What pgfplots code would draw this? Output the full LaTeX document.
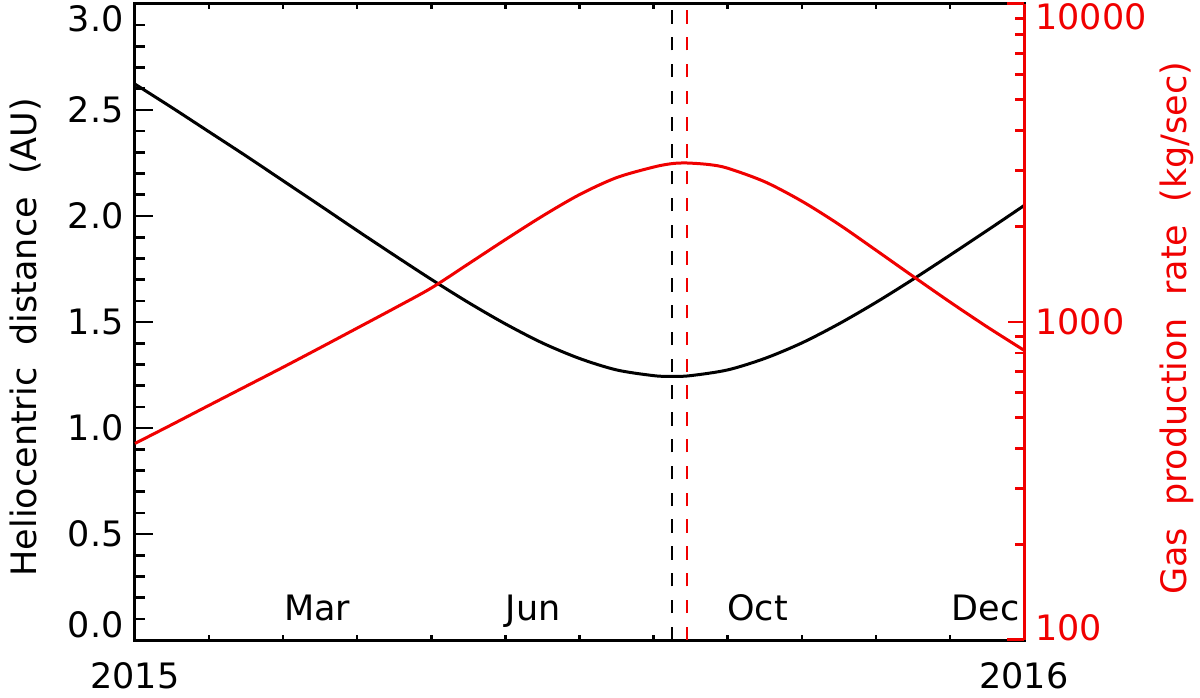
\documentclass[border=0pt]{standalone}
\usepackage{fontspec}
\setmainfont{DejaVu Sans}
\usepackage{pgfplots}
\pgfplotsset{compat=1.18}
\definecolor{myred}{RGB}{240,0,0}
\newcommand{\tf}{\fontsize{17.5pt}{21pt}\selectfont}
\begin{document}
\begin{tikzpicture}
\path[use as bounding box] (-67.5pt,-28.5pt) rectangle (532.5pt,320pt);
\pgfplotsset{
  base/.style={
    scale only axis, width=444.5pt, height=318pt,
    at={(0pt,0pt)}, anchor=south west,
    xmin=0, xmax=12,
    /pgf/number format/assume math mode=true,
    ticklabel style={font=\tf},
    label style={font=\tf},
  }
}
% axis 1: frame and x ticks
\begin{axis}[base,
  ymin=0, ymax=3, ytick=\empty,
  xtick={0,1,...,12},
  xticklabels={2015,{},{},{},{},{},{},{},{},{},{},{},2016},
  xtick pos=both, tick align=inside,
  major tick length=2.5pt,
  axis line style={line width=1.5pt, black},
  xtick style={line width=1.2pt, black},
  xticklabel style={yshift=-7.7pt},
]
\end{axis}
% axis 2: left axis and distance
\begin{axis}[base,
  ymin=0, ymax=3,
  hide x axis,
  axis y line*=left,
  axis line style={-, line width=1.5pt, black},
  tick align=inside,
  ytick={0,0.5,1,1.5,2,2.5,3},
  yticklabels={0.0,0.5,1.0,1.5,2.0,2.5,3.0},
  minor y tick num=4,
  major tick length=8.8pt, minor tick length=5pt,
  ytick style={line width=1.3pt, black},
  yticklabel style={xshift=-2.2pt, yshift={(\tick<0.1 ? 7.5 : (\tick>2.9 ? -7.5 : 0))*1pt}},
  ylabel={Heliocentric\ \ distance\ \ (AU)},
  ylabel style={at={(axis description cs:-0.1237,0.476)}, anchor=center, rotate=0},
  clip=false,
]
\addplot[black, line width=1.2pt, dash pattern=on 6.7pt off 6.7pt] coordinates {(7.25,0) (7.25,3)};
\addplot[myred, line width=1.2pt, dash pattern=on 6.7pt off 6.7pt] coordinates {(7.45,0) (7.45,3)};
\addplot[black, line width=1.5pt, smooth] coordinates {
(0,2.622) (0.5,2.511) (1,2.397) (1.5,2.283) (2,2.166) (2.5,2.049) (3,1.931) (3.5,1.815)
(4,1.701) (4.5,1.592) (5,1.491) (5.5,1.401) (6,1.328) (6.5,1.274) (7,1.247) (7.25,1.243)
(7.5,1.247) (8,1.274) (8.5,1.328) (9,1.401) (9.5,1.491) (10,1.592) (10.5,1.701) (11,1.815)
(11.5,1.931) (12,2.049)};
\node[anchor=base west, inner sep=0pt, font=\tf] at (axis cs:2.01,0.094) {Mar};
\node[anchor=base west, inner sep=0pt, font=\tf] at (axis cs:5.0,0.094) {Jun};
\node[anchor=base west, inner sep=0pt, font=\tf] at (axis cs:7.99,0.094) {Oct};
\node[anchor=base west, inner sep=0pt, font=\tf] at (axis cs:11.02,0.094) {Dec};
\end{axis}
% axis 3: right log axis and gas production
\begin{axis}[base,
  ymode=log, ymin=100, ymax=10000,
  hide x axis,
  axis y line*=right,
  axis line style={-, line width=1.5pt, myred},
  tick align=inside,
  ytick={100,1000,10000},
  yticklabels={100,1000,10000},
  major tick length=8pt, minor tick length=4.5pt,
  ytick style={line width=1.3pt, myred},
  yticklabel style={myred, xshift=2.2pt, yshift={(\tick<5 ? 6 : (\tick>9 ? -6.5 : 0))*1pt}},
  ylabel={Gas\ \ production\ \ rate\ \ (kg/sec)},
  ylabel style={myred, at={(axis description cs:1.172,0.49)}, anchor=center, rotate=0},
  clip=false,
]
\draw[myred, line width=1.5pt] (rel axis cs:0.981,0) -- (rel axis cs:1,0);
\draw[myred, line width=1.5pt] (rel axis cs:0.981,1) -- (rel axis cs:1,1);
\addplot[myred, line width=1.5pt, smooth] coordinates {
(0,415) (0.5,476) (1,547) (1.5,628) (2,721) (2.5,830) (3,957) (3.5,1104)
(4,1279) (4.5,1523) (5,1816) (5.5,2153) (6,2515) (6.5,2844) (7,3070) (7.25,3148)
(7.45,3162) (7.75,3126) (8,3045) (8.5,2761) (9,2399) (9.5,2028) (10,1683) (10.5,1393)
(11,1156) (11.5,966) (12,815)};
\end{axis}
\end{tikzpicture}
\end{document}
